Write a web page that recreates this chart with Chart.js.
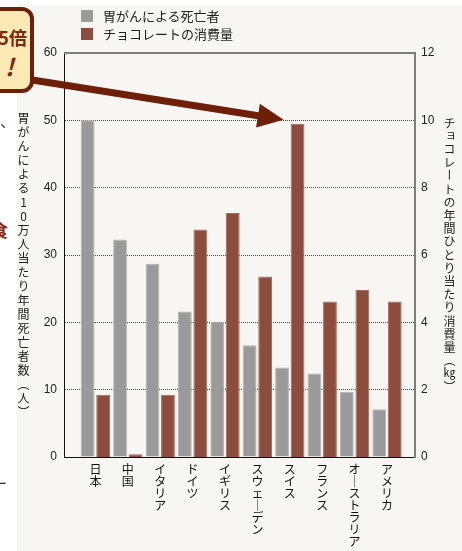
<!DOCTYPE html>
<html lang="ja">
<head>
<meta charset="utf-8">
<title>胃がんとチョコレート</title>
<style>
    html, body { margin: 0; padding: 0; background: #fff; }
    body { width: 462px; height: 551px; position: relative; overflow: hidden; font-family: "Noto Sans CJK JP", sans-serif; color: #222; }
    #panel { position: absolute; left: 17px; top: 5px; width: 445px; height: 546px; background: #f7f6f2; }
    #myChart { position: absolute; left: 0; top: 0; }
    .legend { position: absolute; left: 81px; top: 7px; font-size: 13px; line-height: 18px; }
    .legend div { display: flex; align-items: center; height: 18px; }
    .legend span.sw { display: inline-block; width: 12px; height: 12px; margin-right: 10px; }
    .vtitle { position: absolute; writing-mode: vertical-rl; text-orientation: upright; font-size: 12px; line-height: 12px; color: #222; white-space: nowrap; }
    .callout { position: absolute; box-sizing: border-box; left: -60px; top: 7px; width: 94px; height: 86px; border: 4px solid #6d1f08; border-radius: 12px; background: #fde9b6; z-index: 5; }
    .callout .l1 { position: absolute; right: 3px; top: 13px; font-size: 18px; font-weight: bold; color: #7a2a0e; white-space: nowrap; }
    .callout .l2 { position: absolute; right: 16px; top: 37px; font-size: 24px; font-weight: bold; font-style: italic; color: #7a2a0e; }
    .frag { position: absolute; white-space: nowrap; }
</style>
</head>
<body>
<div id="panel"></div>

<!-- cut-off text from the page the chart sits in -->
<span class="frag" style="left:0px; top:110px; font-size:15px; color:#333;">、</span>
<span class="frag" style="left:-9px; top:217px; font-size:17px; font-weight:bold; color:#8b2a10;">食</span>
<span class="frag" style="left:-8px; top:472px; font-size:15px; color:#333;">ー</span>

<canvas id="myChart" width="462" height="551"></canvas>

<div class="legend" id="legend"></div>

<div class="vtitle" id="leftTitle" style="left:17px; top:112px; letter-spacing:2px;"></div>
<div class="vtitle" id="rightTitle" style="left:443px; top:117px; letter-spacing:1.2px;"></div>

<div class="callout">
    <div class="l1">約5倍</div>
    <div class="l2">!</div>
</div>

<script src="https://cdn.jsdelivr.net/npm/chart.js@4.4.0/dist/chart.umd.min.js"></script>
<script>
    // data
    const countries = ['日本', '中国', 'イタリア', 'ドイツ', 'イギリス', 'スウェーデン', 'スイス', 'フランス', 'オーストラリア', 'アメリカ'];
    const deaths = [50, 32.3, 28.7, 21.6, 20.1, 16.6, 13.3, 12.4, 9.7, 7.1];        // 人 / 10万人
    const chocolate = [1.85, 0.08, 1.85, 6.76, 7.25, 5.36, 9.9, 4.62, 4.96, 4.62];  // kg / 人・年
    const seriesNames = ['胃がんによる死亡者', 'チョコレートの消費量'];
    const leftTicks = [0, 10, 20, 30, 40, 50, 60];
    const rightTicks = [0, 2, 4, 6, 8, 10, 12];
    const leftAxisTitle = '胃がんによる10万人当たり年間死亡者数（人）';
    const rightAxisTitle = 'チョコレートの年間ひとり当たり消費量（㎏）';

    const grayColor = '#9a9a9a';
    const brownColor = '#8c4d3e';

    document.getElementById('leftTitle').textContent = leftAxisTitle;
    document.getElementById('rightTitle').textContent = rightAxisTitle;

    // legend stacked in two rows
    const legend = document.getElementById('legend');
    [grayColor, brownColor].forEach((c, i) => {
        const row = document.createElement('div');
        const sw = document.createElement('span');
        sw.className = 'sw';
        sw.style.background = c;
        row.appendChild(sw);
        row.appendChild(document.createTextNode(seriesNames[i]));
        legend.appendChild(row);
    });

    Chart.defaults.font.family = '"Noto Sans CJK JP", sans-serif';
    Chart.defaults.color = '#222';

    // vertical labels: one character per line, long vowel mark turned upright
    function verticalLabel(s) {
        return Array.from(s).map(ch => ch === 'ー' ? '｜' : ch);
    }

    const framePlugin = {
        id: 'frame',
        afterDatasetsDraw(chart) {
            const ctx = chart.ctx;
            const a = chart.chartArea;
            ctx.save();
            ctx.strokeStyle = '#7d7d7d';
            ctx.lineWidth = 2;
            ctx.beginPath();
            ctx.moveTo(a.left, a.top);
            ctx.lineTo(a.right, a.top);
            ctx.stroke();
            ctx.restore();
        }
    };

    // arrow from the callout to the top of the swiss chocolate bar
    const arrowPlugin = {
        id: 'arrow',
        afterDraw(chart) {
            const ctx = chart.ctx;
            const bar = chart.getDatasetMeta(1).data[countries.indexOf('スイス')];
            const tipX = bar.x - bar.width / 2 - 7;
            const tipY = bar.y - 4;
            const sx = 26, sy = 79;
            const ang = Math.atan2(tipY - sy, tipX - sx);
            const headLen = 26, headW = 12;
            const bx = tipX - headLen * Math.cos(ang);
            const by = tipY - headLen * Math.sin(ang);
            ctx.save();
            ctx.strokeStyle = '#6d1f08';
            ctx.fillStyle = '#6d1f08';
            ctx.lineWidth = 7;
            ctx.beginPath();
            ctx.moveTo(sx, sy);
            ctx.lineTo(bx + 2 * Math.cos(ang), by + 2 * Math.sin(ang));
            ctx.stroke();
            ctx.beginPath();
            ctx.moveTo(tipX, tipY);
            ctx.lineTo(bx + headW * Math.sin(ang), by - headW * Math.cos(ang));
            ctx.lineTo(bx - headW * Math.sin(ang), by + headW * Math.cos(ang));
            ctx.closePath();
            ctx.fill();
            ctx.restore();
        }
    };

    const ctx = document.getElementById('myChart');

    let chart = new Chart(ctx, {
        type: 'bar',
        data: {
            datasets: [{
                label: seriesNames[0],
                data: deaths.map((v, i) => ({ x: i, y: v })),
                backgroundColor: grayColor,
                borderColor: '#b4b4b4',
                borderWidth: 1,
                yAxisID: 'y'
            }, {
                label: seriesNames[1],
                data: chocolate.map((v, i) => ({ x: i, y: v })),
                backgroundColor: brownColor,
                borderColor: '#a46a5a',
                borderWidth: 1,
                yAxisID: 'y1'
            }]
        },
        options: {
            responsive: false,
            animation: false,
            categoryPercentage: 0.957,
            barPercentage: 0.89,
            layout: { padding: { top: 53, left: 0, right: 0, bottom: 0 } },
            plugins: {
                legend: { display: false },
                tooltip: { enabled: false }
            },
            scales: {
                x: {
                    type: 'linear',
                    offset: false,
                    min: -0.969,
                    max: 9.864,
                    afterFit: s => { s.height = 94; },
                    grid: { display: false, drawTicks: false, offset: false },
                    border: { display: true, color: '#111', width: 1 },
                    ticks: {
                        stepSize: 1,
                        includeBounds: false,
                        autoSkip: false,
                        maxRotation: 0,
                        minRotation: 0,
                        padding: 6,
                        color: '#111',
                        font: { size: 12, lineHeight: 1.0 },
                        callback: v => (Number.isInteger(v) && countries[v]) ? verticalLabel(countries[v]) : ''
                    }
                },
                y: {
                    position: 'left',
                    min: leftTicks[0],
                    max: leftTicks[leftTicks.length - 1],
                    afterFit: s => { s.width = 64; },
                    afterBuildTicks: s => { s.ticks = leftTicks.map(v => ({ value: v })); },
                    grid: {
                        drawTicks: false,
                        color: c => (c.tick && c.tick.value > 0 && c.tick.value < 60) ? '#474747' : 'rgba(0,0,0,0)',
                        lineWidth: 1
                    },
                    border: { display: true, color: '#111', width: 1, dash: [1, 1] },
                    ticks: { padding: 7, color: '#222', font: { family: '"Liberation Sans", sans-serif', size: 12 } }
                },
                y1: {
                    position: 'right',
                    min: rightTicks[0],
                    max: rightTicks[rightTicks.length - 1],
                    afterFit: s => { s.width = 47; },
                    afterBuildTicks: s => { s.ticks = rightTicks.map(v => ({ value: v })); },
                    grid: { display: false, drawTicks: false },
                    border: { display: true, color: '#7d7d7d', width: 2 },
                    ticks: { padding: 6, color: '#222', font: { family: '"Liberation Sans", sans-serif', size: 12 } }
                }
            }
        },
        plugins: [framePlugin, arrowPlugin]
    });
</script>
</body>
</html>
